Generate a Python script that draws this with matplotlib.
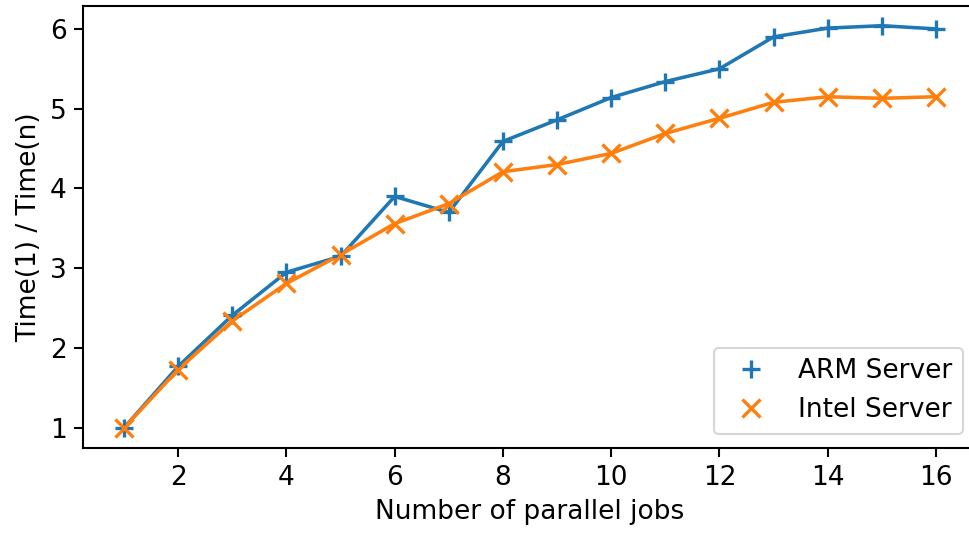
import matplotlib
matplotlib.use("Agg")
import matplotlib.pyplot as plt

jobs = list(range(1, 17))
arm = [1.00, 1.77, 2.41, 2.95, 3.15, 3.90, 3.70, 4.59, 4.86, 5.14, 5.34, 5.50, 5.90, 6.01, 6.04, 6.00]
intel = [1.00, 1.73, 2.34, 2.81, 3.17, 3.56, 3.81, 4.21, 4.30, 4.44, 4.69, 4.88, 5.08, 5.15, 5.13, 5.15]

plt.rcParams["font.size"] = 12.7

fig = plt.figure(figsize=(969 / 150, 536 / 150), dpi=150)
ax = fig.add_axes([83.4 / 969, 1 - 448 / 536, (976.6 - 83.4) / 969, (448 - 5.6) / 536])

ax.plot(jobs, arm, color="C0", lw=1.7)
ax.plot(jobs, intel, color="C1", lw=1.7)
ax.plot(jobs, arm, "+", color="C0", ms=8.5, mew=1.6, label="ARM Server")
ax.plot(jobs, intel, "x", color="C1", ms=8.5, mew=1.6, label="Intel Server")

ax.set_xticks([2, 4, 6, 8, 10, 12, 14, 16])
ax.set_yticks([1, 2, 3, 4, 5, 6])
ax.tick_params(width=1.0, length=4.5)
for s in ax.spines.values():
    s.set_linewidth(1.0)
ax.set_xlabel("Number of parallel jobs")
ax.set_ylabel("Time(1) / Time(n)")
ax.legend(loc="lower right", bbox_to_anchor=(963 / 969, 1 - 434 / 536), bbox_transform=fig.transFigure,
          borderaxespad=0)

fig.savefig("out.png", dpi=150)
